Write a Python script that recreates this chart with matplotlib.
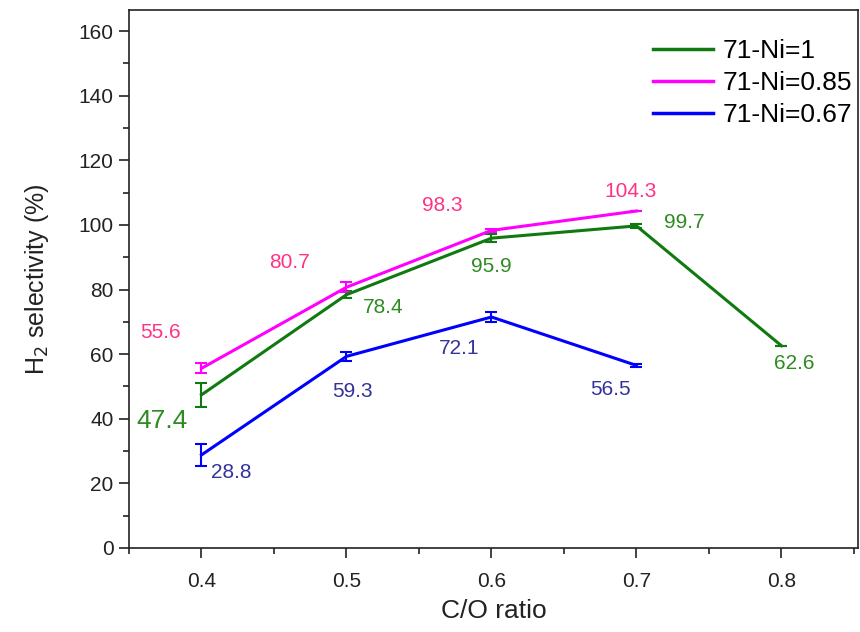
import numpy as np
import matplotlib
matplotlib.use("Agg")
import matplotlib.pyplot as plt
from matplotlib.ticker import MultipleLocator
from matplotlib.lines import Line2D

plt.rcParams['font.family'] = ['Liberation Sans', 'DejaVu Sans']

# data
co_ratio = [0.4, 0.5, 0.6, 0.7, 0.8]

ni1 = [47.4, 78.4, 95.9, 99.7, 62.6]
ni1_err = [3.7, 1.0, 1.2, 0.5, 0.0]

ni085 = [55.6, 80.7, 98.3, 104.3]
ni085_err = [1.5, 1.5, 0.5, 0.0]

ni067 = [28.8, 59.3, 71.5, 56.5]
ni067_err = [3.5, 1.5, 1.5, 0.5]

series_names = ["71-Ni=1", "71-Ni=0.85", "71-Ni=0.67"]

# value labels: (text, x, y)
ni1_labels = ["47.4", "78.4", "95.9", "99.7", "62.6"]
ni1_lab_x = [0.373, 0.5255, 0.600, 0.733, 0.809]
ni1_lab_y = [39.3, 74.3, 87.0, 100.6, 57.0]

ni085_labels = ["55.6", "80.7", "98.3", "104.3"]
ni085_lab_x = [0.372, 0.461, 0.566, 0.696]
ni085_lab_y = [66.6, 88.5, 105.9, 110.2]

ni067_labels = ["28.8", "59.3", "72.1", "56.5"]
ni067_lab_x = [0.4207, 0.504, 0.578, 0.682]
ni067_lab_y = [23.5, 48.3, 61.6, 49.2]

green = "#0f7a0f"
magenta = "#ff00ff"
blue = "#0000ff"

fig = plt.figure(figsize=(8.6, 6.32), dpi=100)
ax = fig.add_axes([0.150, 0.133, 0.848, 0.851])

ax.errorbar(co_ratio, ni1, yerr=ni1_err, color=green, lw=2.2, capsize=4,
            elinewidth=1.5, capthick=1.5)
ax.errorbar(co_ratio[:4], ni085, yerr=ni085_err, color=magenta, lw=2.2, capsize=4,
            elinewidth=1.5, capthick=1.5)
ax.errorbar(co_ratio[:4], ni067, yerr=ni067_err, color=blue, lw=2.2, capsize=4,
            elinewidth=1.5, capthick=1.5)

for t, x, y in zip(ni1_labels, ni1_lab_x, ni1_lab_y):
    fs = 19 if t == "47.4" else 15
    ax.text(x, y, t, color="#2e8b22", fontsize=fs, ha="center", va="center")
for t, x, y in zip(ni085_labels, ni085_lab_x, ni085_lab_y):
    ax.text(x, y, t, color="#ff3385", fontsize=15, ha="center", va="center")
for t, x, y in zip(ni067_labels, ni067_lab_x, ni067_lab_y):
    ax.text(x, y, t, color="#333399", fontsize=15, ha="center", va="center")

ax.set_xlim(0.35, 0.853)
ax.set_ylim(0, 166.5)
ax.xaxis.set_major_locator(MultipleLocator(0.1))
ax.xaxis.set_minor_locator(MultipleLocator(0.05))
ax.yaxis.set_major_locator(MultipleLocator(20))
ax.yaxis.set_minor_locator(MultipleLocator(10))
ax.tick_params(which="both", direction="out", width=1.2, colors="#222222")
ax.tick_params(which="major", length=7)
ax.tick_params(which="minor", length=4)
ax.tick_params(axis="x", labelsize=15, pad=10)
ax.tick_params(axis="y", labelsize=15, pad=4)
for s in ax.spines.values():
    s.set_linewidth(1.2)
    s.set_color("#222222")

ax.set_xlabel("C/O ratio", fontsize=19, labelpad=6, color="#222222")
ax.set_ylabel("H$_2$ selectivity (%)", fontsize=18, labelpad=20, color="#222222")

handles = [Line2D([], [], color=c, lw=2.5) for c in (green, magenta, blue)]
ax.legend(handles, series_names, loc="upper left", bbox_to_anchor=(0.70, 0.97),
          frameon=False, fontsize=19, handlelength=2.3, handletextpad=0.35,
          labelspacing=0.3, borderpad=0)

fig.savefig("out.png", dpi=100)
